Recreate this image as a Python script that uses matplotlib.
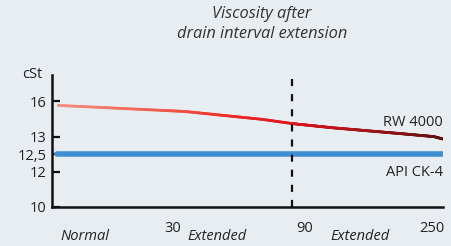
import numpy as np
import matplotlib
matplotlib.use("Agg")
import matplotlib.pyplot as plt
from matplotlib.collections import LineCollection
from matplotlib.colors import LinearSegmentedColormap

plt.rcParams['font.family'] = ['Open Sans', 'DejaVu Sans']

# ---- data ----
title = "Viscosity after\ndrain interval extension"
y_unit = "cSt"
y_ticks = [10, 12, 12.5, 13, 16]
y_tick_labels = ["10", "12", "12,5", "13", "16"]
x_ticks = [30, 90, 250]
x_tick_labels = ["30", "90", "250"]
x_regions = ["Normal", "Extended", "Extended"]
region_centers = [9.2, 56, 178]
boundary = 90

rw_x = [1.7, 41.4, 76.8, 90, 143, 230, 286]
rw_y = [15.66, 15.14, 14.46, 14.11, 13.75, 13.26, 12.93]
api_x = [1.5, 286]
api_y = [12.5, 12.5]
rw_label = "RW 4000"
api_label = "API CK-4"

# ---- piecewise scales (schematic axes) ----
yv = [10, 12, 12.5, 13, 16, 20]
yp = [0, 2, 3, 4, 6, 8.6667]
xv = [0, 30, 90, 250, 400]
xp = [0, 108, 240, 363, 478.4]

def yf(v): return np.interp(v, yv, yp)
def yi(p): return np.interp(p, yp, yv)
def xf(v): return np.interp(v, xv, xp)
def xi(p): return np.interp(p, xp, xv)

W, H = 451, 246
fig = plt.figure(figsize=(W/100, H/100), dpi=100)
fig.patch.set_facecolor('#e8edf2')
ax = fig.add_axes([52/W, (H-207)/H, (443-52)/W, (207-75)/H])
ax.set_facecolor('none')
ax.set_xscale('function', functions=(xf, xi))
ax.set_yscale('function', functions=(yf, yi))
ax.set_xlim(0, 286)
ax.set_ylim(10, yi(7.5))

# blue line
ax.plot(api_x, api_y, color='#3f8fd3', lw=4.0, solid_capstyle='round', zorder=2)

# red gradient line
xs = np.linspace(rw_x[0], rw_x[-1], 400)
ys = np.interp(xf(xs), xf(np.array(rw_x)), rw_y)
pts = np.array([xs, ys]).T.reshape(-1, 1, 2)
segs = np.concatenate([pts[:-1], pts[1:]], axis=1)
cmap = LinearSegmentedColormap.from_list('rw', [(0, '#f39080'), (0.3, '#f05545'),
                                                 (0.45, '#ec2a28'), (0.62, '#e0141c'),
                                                 (0.8, '#a21418'), (1, '#5e0f0f')])
relx = (xf(xs[:-1]) - xf(xs[0])) / (xf(xs[-1]) - xf(xs[0]))
lc = LineCollection(segs, colors=cmap(relx), lw=2.0, capstyle='round', zorder=3)
ax.add_collection(lc)

# dashed boundary
ax.plot([boundary, boundary], [10, yi(7.5)], color='#111111', lw=1.6,
        dashes=(3.2, 3.6), clip_on=False, zorder=4)
ax.plot([boundary, boundary], [yi(-0.36), 10], color='#111111', lw=1.6,
        clip_on=False, zorder=4)

for s in ['top', 'right']:
    ax.spines[s].set_visible(False)
for s in ['left', 'bottom']:
    ax.spines[s].set_linewidth(1.8)
    ax.spines[s].set_color('#111111')

fs = 10.5
ax.set_yticks(y_ticks)
ax.set_yticklabels(y_tick_labels)
ax.tick_params(axis='y', direction='in', length=5.5, width=1.6, color='#111111',
               labelsize=fs, labelcolor='#222222', pad=4)
ax.set_xticks([])

ax.text(-0.025, 1.0, y_unit, transform=ax.transAxes, ha='right', va='center',
        fontsize=fs, color='#222222')

for xv_, lab in zip(x_ticks, x_tick_labels):
    ax.annotate(lab, (xv_, 10), xytext=(4, -21), textcoords='offset pixels',
                ha='left', va='center', fontsize=fs, color='#222222',
                annotation_clip=False)
for xv_, lab in zip(region_centers, x_regions):
    ax.annotate(lab, (xv_, 10), xytext=(0, -30), textcoords='offset pixels',
                ha='center', va='center', fontsize=fs, color='#222222',
                style='italic', annotation_clip=False)

ax.annotate(rw_label, (rw_x[-1], rw_y[-1]), xytext=(0, 17), textcoords='offset pixels',
            ha='right', va='center', fontsize=fs, color='#222222', annotation_clip=False)
ax.annotate(api_label, (api_x[-1], api_y[-1]), xytext=(0, -18), textcoords='offset pixels',
            ha='right', va='center', fontsize=fs, color='#222222', annotation_clip=False)

fig.text(262/W, 1 - 24/H, title, ha='center', va='center', fontsize=11.8,
         style='italic', color='#333333', linespacing=1.25)

fig.savefig('out.png', dpi=100, facecolor=fig.get_facecolor())
